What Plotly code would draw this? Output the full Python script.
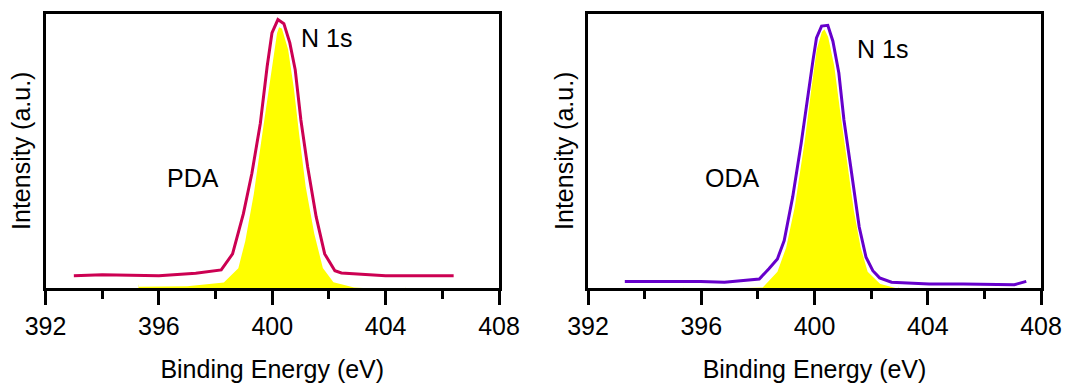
import plotly.graph_objects as go

# ---- data (fractional intensity) ----
pda_x = [393.0, 394.0, 396.0, 397.3, 398.2, 398.6, 398.98, 399.28, 399.58, 399.82, 399.99, 400.2,
         400.41, 400.62, 400.81, 401.01, 401.25, 401.55, 401.85, 402.21, 402.44, 404.0, 406.4]
pda_y = [0.045, 0.048, 0.045, 0.054, 0.066, 0.124, 0.27, 0.417, 0.60, 0.807, 0.929, 0.978,
         0.963, 0.893, 0.795, 0.612, 0.441, 0.259, 0.124, 0.063, 0.055, 0.045, 0.045]

pda_fit_x = [395.28, 397.0, 398.26, 398.74, 398.98, 399.28, 399.58, 399.88, 400.1, 400.2, 400.4,
             400.63, 400.83, 401.02, 401.25, 401.55, 401.85, 402.2, 402.9, 403.8, 404.7]
pda_fit_y = [0.012, 0.014, 0.027, 0.076, 0.173, 0.344, 0.563, 0.78, 0.93, 0.96, 0.95,
             0.87, 0.73, 0.56, 0.37, 0.20, 0.076, 0.027, 0.009, 0.004, 0.002]

oda_x = [393.3, 394.17, 395.98, 396.82, 397.66, 398.05, 398.39, 398.69, 398.93, 399.23, 399.53,
         399.77, 399.95, 400.07, 400.25, 400.47, 400.65, 400.86, 401.04, 401.28, 401.58, 401.82,
         402.06, 402.3, 402.72, 404.05, 405.25, 407.06, 407.48]
oda_y = [0.024, 0.024, 0.024, 0.021, 0.029, 0.033, 0.07, 0.106, 0.173, 0.332, 0.527,
         0.71, 0.832, 0.911, 0.954, 0.957, 0.899, 0.783, 0.612, 0.441, 0.222, 0.112,
         0.063, 0.037, 0.021, 0.015, 0.015, 0.012, 0.024]

oda_fit_x = [395.37, 398.14, 398.63, 398.93, 399.23, 399.59, 399.83, 400.01, 400.2, 400.37, 400.55,
             400.77, 400.97, 401.22, 401.46, 401.7, 401.94, 402.36, 402.96]
oda_fit_y = [0.002, 0.009, 0.063, 0.149, 0.295, 0.54, 0.735, 0.87, 0.937, 0.955, 0.917,
             0.808, 0.649, 0.466, 0.283, 0.149, 0.063, 0.021, 0.005]

x_ticks = [392, 396, 400, 404, 408]
labels = ["PDA", "ODA"]
peak_label = "N 1s"

PDA_COLOR = "#cc0052"
ODA_COLOR = "#6600cc"
FONT = "Liberation Sans, Arial, sans-serif"
FS = 25

fig = go.Figure()

fig.add_trace(go.Scatter(x=pda_fit_x, y=pda_fit_y, mode="lines", fill="tozeroy",
                         fillcolor="#ffff00", line=dict(color="white", width=4),
                         xaxis="x", yaxis="y", showlegend=False))
fig.add_trace(go.Scatter(x=pda_x, y=pda_y, mode="lines",
                         line=dict(color=PDA_COLOR, width=3),
                         xaxis="x", yaxis="y", showlegend=False))
fig.add_trace(go.Scatter(x=oda_fit_x, y=oda_fit_y, mode="lines", fill="tozeroy",
                         fillcolor="#ffff00", line=dict(color="white", width=4),
                         xaxis="x2", yaxis="y2", showlegend=False))
fig.add_trace(go.Scatter(x=oda_x, y=oda_y, mode="lines",
                         line=dict(color=ODA_COLOR, width=3),
                         xaxis="x2", yaxis="y2", showlegend=False))

def xaxis(domain, anchor):
    return dict(domain=domain, anchor=anchor, range=[392, 408], tickvals=x_ticks,
                ticks="outside", ticklen=14, tickwidth=3, tickcolor="black",
                showline=True, linecolor="black", linewidth=3, mirror=True,
                showgrid=False, zeroline=False, automargin=False,
                minor=dict(dtick=2, tick0=392, ticks="outside", ticklen=8, tickwidth=3,
                           tickcolor="black", showgrid=False),
                tickfont=dict(family=FONT, size=FS, color="black"),
                title=dict(text="Binding Energy (eV)", standoff=22,
                           font=dict(family=FONT, size=FS, color="black")))

def yaxis(domain, anchor):
    return dict(domain=domain, anchor=anchor, range=[0, 1], showticklabels=False,
                ticks="", showline=True, linecolor="black", linewidth=3, mirror=True,
                showgrid=False, zeroline=False, automargin=False,
                title=dict(text="Intensity (a.u.)", standoff=5,
                           font=dict(family=FONT, size=FS, color="black")))

ydom = [1 - 288 / 387, 1 - 13.5 / 387]
fig.update_layout(
    width=1065, height=387, margin=dict(l=0, r=0, t=0, b=0),
    plot_bgcolor="white", paper_bgcolor="white",
    xaxis=xaxis([45.5 / 1065, 499 / 1065], "y"),
    yaxis=yaxis(ydom, "x"),
    xaxis2=xaxis([588 / 1065, 1041 / 1065], "y2"),
    yaxis2=yaxis(ydom, "x2"),
)

ann_font = dict(family=FONT, size=FS, color="black")
fig.add_annotation(x=401.9, y=0.91, xref="x", yref="y", text=peak_label, showarrow=False, font=ann_font)
fig.add_annotation(x=397.2, y=0.40, xref="x", yref="y", text=labels[0], showarrow=False, font=ann_font)
fig.add_annotation(x=402.4, y=0.87, xref="x2", yref="y2", text=peak_label, showarrow=False, font=ann_font)
fig.add_annotation(x=397.1, y=0.40, xref="x2", yref="y2", text=labels[1], showarrow=False, font=ann_font)

fig.write_html("out.html")
